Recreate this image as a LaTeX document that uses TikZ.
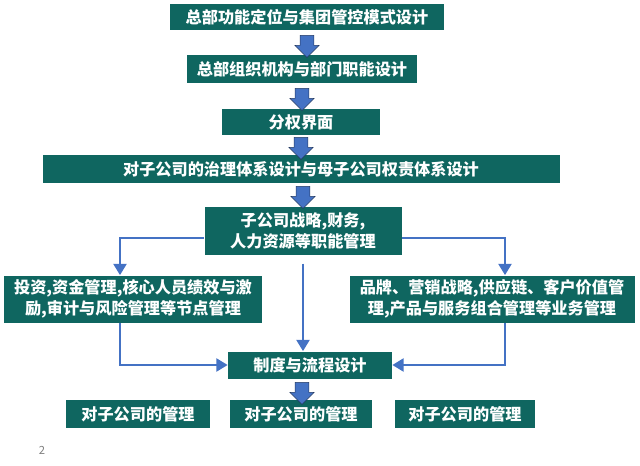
\documentclass[tikz,border=0pt]{standalone}
\usepackage{fontspec}
\setmainfont{Noto Sans CJK SC}[BoldFont={* Black}]
\usetikzlibrary{shapes.arrows,arrows.meta}
\definecolor{boxteal}{HTML}{0F6660}
\definecolor{lineblue}{HTML}{4472C4}
\tikzset{
  box/.style={fill=boxteal, text=white, font=\bfseries\fontsize{11.5}{15}\selectfont, inner sep=0pt, align=center},
  down/.style={single arrow, draw=lineblue!50!black, fill=lineblue, rotate=-90, minimum height=22*0.025cm, minimum width=24*0.025cm, single arrow head extend=2pt, inner sep=2.5pt},
  link/.style={draw=lineblue, line width=2pt, -{Triangle[length=8pt,width=9pt]}}
}
\begin{document}
\begin{tikzpicture}[x=0.025cm,y=-0.025cm]
    \useasboundingbox (0,0) rectangle (640,466);
    \node [box, minimum width=274*0.025cm, minimum height=26*0.025cm] (top) at (307,17) {总部功能定位与集团管控模式设计};
    \node [box, minimum width=230*0.025cm, minimum height=28*0.025cm] (org) at (302,69) {总部组织机构与部门职能设计};
    \node [box, minimum width=158*0.025cm, minimum height=26*0.025cm] (split) at (301,122) {分权界面};
    \node [box, minimum width=517*0.025cm, minimum height=28*0.025cm] (gov) at (301,169) {对子公司的治理体系设计与母子公司权责体系设计};
    \node [box, minimum width=197*0.025cm, minimum height=48*0.025cm] (func) at (303,231) {子公司战略,财务,\\人力资源等职能管理};
    \node [box, minimum width=258*0.025cm, minimum height=47*0.025cm] (node) at (133,299) {投资,资金管理,核心人员绩效与激\\励,审计与风险管理等节点管理};
    \node [box, minimum width=285*0.025cm, minimum height=47*0.025cm] (biz) at (492,299) {品牌、营销战略,供应链、客户价值管\\理,产品与服务组合管理等业务管理};
    \node [box, minimum width=164*0.025cm, minimum height=27*0.025cm] (sys) at (310,365) {制度与流程设计};
    \node [box, minimum width=144*0.025cm, minimum height=28*0.025cm] (m1) at (138,414) {对子公司的管理};
    \node [box, minimum width=142*0.025cm, minimum height=28*0.025cm] (m2) at (301,414) {对子公司的管理};
    \node [box, minimum width=140*0.025cm, minimum height=28*0.025cm] (m3) at (465,414) {对子公司的管理};
    % block arrows
    \node [down] (a1) at (307,43) {};
    \node [down] (a2) at (302,96) {};
    \node [down] (a3) at (301,145) {};
    \node [down] (a4) at (303,194) {};
    \node [down] (a5) at (302,390) {};
    % connectors
    \coordinate (fl) at (120,238);
    \coordinate (fr) at (505,238);
    \coordinate (nl) at (120,365);
    \coordinate (nr) at (505,365);
    \draw [link] (func.west |- fl) -- (fl) -- (fl |- node.north);
    \draw [link] (func.east |- fr) -- (fr) -- (fr |- biz.north);
    \draw [link] ([yshift=-6pt]func.south) -- (func.south |- sys.north);
    \draw [link] (node.south -| nl) -- (nl) -- (sys.west);
    \draw [link] (biz.south -| nr) -- (nr) -- (sys.east);
    \node [text=gray, font=\fontsize{8}{10}\selectfont] (pg) at (42,450) {2};
\end{tikzpicture}
\end{document}
